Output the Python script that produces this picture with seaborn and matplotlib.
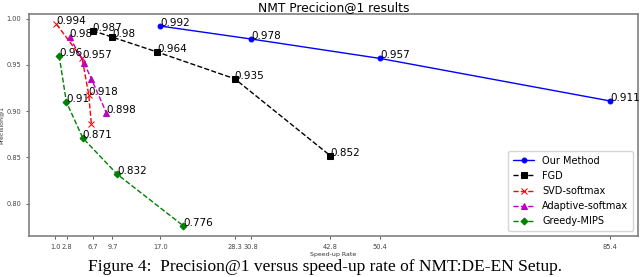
import numpy as np
import matplotlib
matplotlib.use("Agg")
import matplotlib.pyplot as plt
import seaborn as sns

# speed-up rate (x) and precision@1 (y) per method
our_x = [17.0, 30.8, 50.4, 85.4]
our_y = [0.992, 0.978, 0.957, 0.911]
our_lab = ["0.992", "0.978", "0.957", "0.911"]

fgd_x = [6.7, 9.7, 16.5, 28.3, 42.8]
fgd_y = [0.987, 0.980, 0.964, 0.935, 0.852]
fgd_lab = ["0.987", "0.98", "0.964", "0.935", "0.852"]

svd_x = [1.2, 5.1, 6.1, 6.5]
svd_y = [0.994, 0.957, 0.918, 0.886]
svd_lab = ["0.994", "0.957", "0.918", None]

ada_x = [3.2, 5.4, 6.5, 8.8]
ada_y = [0.980, 0.952, 0.935, 0.898]
ada_lab = ["0.98", None, None, "0.898"]

mips_x = [1.6, 2.7, 5.2, 10.4, 20.5]
mips_y = [0.960, 0.910, 0.871, 0.832, 0.776]
mips_lab = ["0.96", "0.91", "0.871", "0.832", "0.776"]

xticks = [1.0, 2.8, 6.7, 9.7, 17.0, 28.3, 30.8, 42.8, 50.4, 85.4]
yticks = [0.80, 0.85, 0.90, 0.95, 1.00]

sns.set_style("white")
plt.rcParams['font.family'] = ['DejaVu Sans']

fig, ax = plt.subplots(figsize=(6.4, 2.77), dpi=100)
fig.subplots_adjust(left=0.045, right=0.997, top=0.949, bottom=0.148)

series = [
    (our_x, our_y, our_lab, "blue", "o", "-", "Our Method", 3.5),
    (fgd_x, fgd_y, fgd_lab, "black", "s", "--", "FGD", 4),
    (svd_x, svd_y, svd_lab, "red", "x", "--", "SVD-softmax", 4),
    (ada_x, ada_y, ada_lab, "m", "^", "--", "Adaptive-softmax", 4),
    (mips_x, mips_y, mips_lab, "green", "D", "--", "Greedy-MIPS", 3.5),
]
for xs, ys, labs, c, mk, ls, name, ms in series:
    sns.lineplot(x=xs, y=ys, ax=ax, color=c, marker=mk, linestyle=ls,
                 label=name, linewidth=1, markersize=ms,
                 markeredgecolor=c, markerfacecolor=c, sort=False)
    for x, y, t in zip(xs, ys, labs):
        if t is not None:
            ax.annotate(t, (x, y), fontsize=7.5, color="black")

ax.set_xticks(xticks)
ax.set_xticklabels([f"{v:.1f}" for v in xticks])
ax.set_yticks(yticks)
ax.set_yticklabels([f"{v:.2f}" for v in yticks])
ax.tick_params(labelsize=4.8, colors="#444444", length=2, width=0.6, bottom=True, left=True)
ax.set_xlabel("Speed-up Rate", fontsize=4.5, labelpad=2, color="#333333")
ax.set_ylabel("Precision@1", fontsize=4.5, labelpad=2, color="#333333")
ax.set_title("NMT Precicion@1 results", fontsize=8.8, pad=2, color="black")
for s in ax.spines.values():
    s.set_color("#808080")
    s.set_linewidth(1.2)

leg = ax.legend(loc="lower right", fontsize=7, frameon=True, borderpad=0.5,
                labelspacing=0.53, handlelength=2.2)
leg.get_frame().set_edgecolor("#cccccc")
for t in leg.get_texts():
    t.set_color("black")

fig.text(0.508, 0.022, "Figure 4:  Precision@1 versus speed-up rate of NMT:DE-EN Setup.",
         ha="center", va="baseline", fontsize=12.5, family="Liberation Serif", color="black")

fig.savefig("out.png", dpi=100)
